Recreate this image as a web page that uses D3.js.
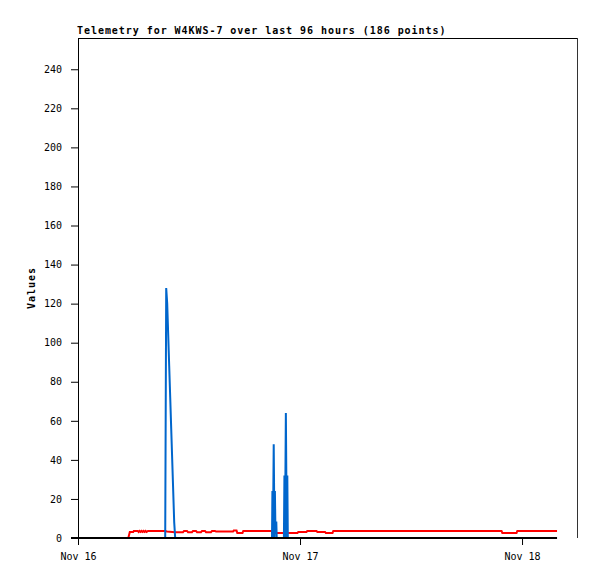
<!DOCTYPE html>
<html>
<head>
<meta charset="utf-8">
<script src="https://cdn.jsdelivr.net/npm/d3@7"></script>
<style>
  html, body { margin: 0; padding: 0; background: #fff; }
  svg { display: block; }
  text { font-family: "DejaVu Sans Mono", "Liberation Mono", monospace; }
</style>
</head>
<body>
<div id="chart"></div>
<script>
// ---- Data (time in hours after Nov 16 00:00) ----
const titleText = "Telemetry for W4KWS-7 over last 96 hours (186 points)";
const yLabel = "Values";
const yTickValues = [0, 20, 40, 60, 80, 100, 120, 140, 160, 180, 200, 220, 240];
const yMax = 256;
const domainHours = [0, 54.05];

const redHours = [5.438, 5.600, 5.968, 6.032, 6.465, 6.551, 6.659, 6.768, 6.876, 6.984,
  7.092, 7.200, 7.308, 7.416, 7.568, 9.405, 9.622, 10.486, 11.351, 11.459,
  11.784, 11.892, 12.324, 12.432, 12.757, 12.865, 13.297, 13.405, 13.730, 13.838,
  14.378, 14.486, 14.811, 14.919, 16.757, 16.843, 17.135, 17.222, 17.784, 17.870,
  20.919, 21.005, 23.730, 23.816, 24.703, 24.789, 25.784, 25.870, 26.703, 26.789,
  27.514, 27.600, 45.784, 45.870, 47.405, 47.492, 51.784];
const redValues = [0, 3.1, 3.1, 3.6, 3.6, 3.1, 3.6, 3.1, 3.6, 3.1,
  3.6, 3.1, 3.6, 3.1, 3.6, 3.6, 3.3, 3.0, 3.0, 3.6,
  3.6, 3.0, 3.0, 3.6, 3.6, 3.0, 3.0, 3.6, 3.6, 3.0,
  3.0, 3.6, 3.6, 3.3, 3.3, 3.9, 3.9, 2.6, 2.6, 3.6,
  3.6, 2.6, 2.6, 3.1, 3.1, 3.6, 3.6, 3.1, 3.1, 2.6,
  2.6, 3.6, 3.6, 2.6, 2.6, 3.6, 3.6];

const blueHours = [5.438, 9.427, 9.535, 9.643, 9.751, 9.859, 9.968, 10.076, 10.184, 10.292,
  10.400, 10.508, 20.973, 21.016, 21.070, 21.114, 21.157, 21.200, 21.243, 21.286,
  21.330, 21.438, 21.481, 22.259, 22.314, 22.368, 22.422, 22.470, 22.519, 22.573,
  22.627, 22.681, 51.784];
const blueValues = [0, 0, 128, 120, 104, 88, 72, 56, 40, 24,
  8, 0, 0, 24, 0, 24, 48, 24, 0, 24,
  8, 8, 0, 0, 32, 0, 32, 64, 32, 0,
  32, 0, 0];

// ---- Setup ----
const W = 597, H = 579;
const margin = { left: 78, right: 19, top: 38, bottom: 41 };
const base = new Date(2024, 10, 16, 0, 0, 0);
const toDate = h => new Date(base.getTime() + h * 3600 * 1000);

const svg = d3.select("#chart").append("svg").attr("width", W).attr("height", H);

const x = d3.scaleTime()
  .domain(domainHours.map(toDate))
  .range([margin.left, W - margin.right]);
const y = d3.scaleLinear()
  .domain([0, yMax])
  .range([H - margin.bottom, margin.top]);

// Title
svg.append("text")
  .attr("x", 77).attr("y", 34)
  .attr("font-size", 10).attr("font-weight", "bold")
  .attr("letter-spacing", "0.95px")
  .attr("fill", "#000")
  .text(titleText);

// Frame: top and right
svg.append("line")
  .attr("x1", x.range()[0]).attr("x2", x.range()[1])
  .attr("y1", y.range()[1] + 0.5).attr("y2", y.range()[1] + 0.5)
  .attr("stroke", "#000").attr("stroke-width", 1);
svg.append("line")
  .attr("x1", x.range()[1] - 0.5).attr("x2", x.range()[1] - 0.5)
  .attr("y1", y.range()[1]).attr("y2", y.range()[0])
  .attr("stroke", "#333").attr("stroke-width", 1);

// Y axis
const yAxis = svg.append("g")
  .attr("transform", `translate(${margin.left},0)`)
  .call(d3.axisLeft(y).tickValues(yTickValues).tickSize(7).tickSizeOuter(0).tickPadding(9)
    .tickFormat(d3.format("d")));
yAxis.selectAll("text").attr("font-size", 10).attr("font-family", "DejaVu Sans Mono").attr("fill", "#000");
yAxis.selectAll("line, path").attr("stroke", "#000");

// X axis
const xAxis = svg.append("g")
  .attr("transform", `translate(0,${y(0)})`)
  .call(d3.axisBottom(x).ticks(d3.timeDay.every(1)).tickSize(7).tickSizeOuter(0).tickPadding(8)
    .tickFormat(d3.timeFormat("%b %d")));
xAxis.select(".domain").remove();
xAxis.selectAll("text").attr("font-size", 10).attr("font-family", "DejaVu Sans Mono").attr("fill", "#000");
xAxis.selectAll("line").attr("stroke", "#000");

// Y label
svg.append("text")
  .attr("transform", `translate(35,${(y.range()[0] + y.range()[1]) / 2}) rotate(-90)`)
  .attr("text-anchor", "middle")
  .attr("font-size", 10).attr("font-weight", "bold")
  .attr("letter-spacing", "0.95px")
  .attr("fill", "#000")
  .text(yLabel);

// Series
const redData = redHours.map((h, i) => ({ t: toDate(h), v: redValues[i] }));
const blueData = blueHours.map((h, i) => ({ t: toDate(h), v: blueValues[i] }));
const line = d3.line().x(d => x(d.t)).y(d => y(d.v));

svg.append("path").datum(redData)
  .attr("d", line).attr("fill", "none")
  .attr("stroke", "#ff0000").attr("stroke-width", 2).attr("stroke-linejoin", "miter");
svg.append("path").datum(blueData)
  .attr("d", line).attr("fill", "none")
  .attr("stroke", "#0066cc").attr("stroke-width", 2).attr("stroke-linejoin", "miter");

// Baseline from axis start to last data time
const lastT = toDate(d3.max(redHours.concat(blueHours)));
svg.append("line")
  .attr("x1", x.range()[0] - 7).attr("x2", x(lastT))
  .attr("y1", y(0)).attr("y2", y(0))
  .attr("stroke", "#000").attr("stroke-width", 2);
</script>
</body>
</html>
